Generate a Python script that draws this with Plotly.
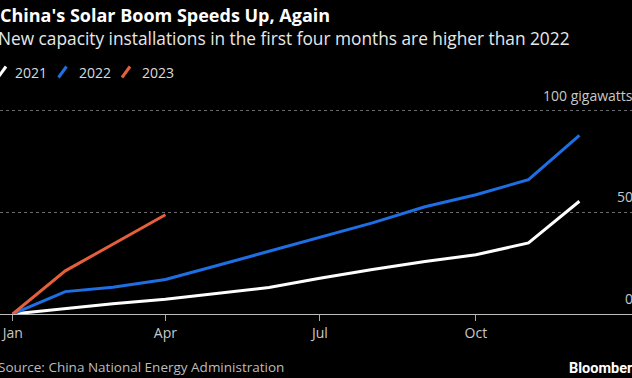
import plotly.graph_objects as go

# ---- data ----
dates = ["2022-01-01", "2022-02-01", "2022-03-01", "2022-04-01", "2022-05-01", "2022-06-01",
         "2022-07-01", "2022-08-01", "2022-09-01", "2022-10-01", "2022-11-01", "2022-12-01"]
y2021 = [0, 2.6, 5.0, 7.2, 10.0, 13.0, 17.6, 21.9, 25.8, 29.1, 34.9, 55.4]
y2022 = [0, 11.0, 13.2, 17.0, 23.7, 30.9, 37.9, 44.8, 52.7, 58.6, 66.0, 87.8]
y2023 = [0, 21.2, 34.3, 48.8]
series_names = ["2021", "2022", "2023"]
x_tick_vals = ["2022-01-01", "2022-04-01", "2022-07-01", "2022-10-01"]
x_tick_text = ["Jan", "Apr", "Jul", "Oct"]
y_tick_vals = [0, 50, 100]
y_tick_text = ["0", "50", "100 gigawatts"]

colors = ["#ffffff", "#1d6fe3", "#e4603b"]
FONT = "Open Sans"
W, H = 632, 378
T, B = 100, 64
PH = H - T - B

def px_x(px):
    return px / W

def px_y(py):
    return (H - B - py) / PH

fig = go.Figure()
for name, ys, c in zip(series_names, [y2021, y2022, y2023], colors):
    fig.add_trace(go.Scatter(x=dates[:len(ys)], y=ys, mode="lines", name=name,
                             line=dict(color=c, width=3), showlegend=False,
                             hoverinfo="skip"))

annotations = []
annotations.append(dict(text="<b>China's Solar Boom Speeds Up, Again</b>", x=px_x(-2), y=px_y(15),
                        xref="paper", yref="paper", xanchor="left", yanchor="middle",
                        showarrow=False, font=dict(family=FONT, size=18, color="#ffffff")))
annotations.append(dict(text="New capacity installations in the first four months are higher than 2022",
                        x=px_x(-4), y=px_y(38), xref="paper", yref="paper", xanchor="left",
                        yanchor="middle", showarrow=False,
                        font=dict(family=FONT, size=17.3, color="#e8e8e8")))
legend_text_x = [13, 77, 140]
legend_sym_x = [-2, 58.5, 122]
shapes = []
for name, c, tx, sx in zip(series_names, colors, legend_text_x, legend_sym_x):
    annotations.append(dict(text=name, x=px_x(tx), y=px_y(72), xref="paper", yref="paper",
                            xanchor="left", yanchor="middle", showarrow=False,
                            font=dict(family=FONT, size=14, color="#dcdcdc")))
    shapes.append(dict(type="line", xref="paper", yref="paper", x0=px_x(sx), y0=px_y(77.5),
                       x1=px_x(sx + 8), y1=px_y(66.5), line=dict(color=c, width=3)))
for v, t in zip(y_tick_vals, y_tick_text):
    annotations.append(dict(text=t, x=1, y=v, xref="paper", yref="y", xanchor="right",
                            yanchor="bottom", xshift=3, yshift=4, showarrow=False,
                            font=dict(family=FONT, size=14, color="#c8c8c8")))
annotations.append(dict(text="Source: China National Energy Administration", x=px_x(-4), y=px_y(367),
                        xref="paper", yref="paper", xanchor="left", yanchor="middle",
                        showarrow=False, font=dict(family=FONT, size=13.5, color="#bdbdbd")))
annotations.append(dict(text="<b>Bloomberg</b>", x=px_x(567), y=px_y(368), xref="paper", yref="paper",
                        xanchor="left", yanchor="middle", showarrow=False,
                        font=dict(family="Roboto", size=14.5, color="#ffffff")))

fig.update_layout(
    width=W, height=H,
    margin=dict(l=0, r=0, t=T, b=B),
    paper_bgcolor="#000000", plot_bgcolor="#000000",
    font=dict(family=FONT, color="#ffffff"),
    annotations=annotations, shapes=shapes,
    xaxis=dict(type="date", range=["2021-12-24 12:00", "2023-01-01"],
               tickvals=x_tick_vals, ticktext=x_tick_text,
               ticks="outside", ticklen=6, tickcolor="#aaaaaa", tickwidth=1,
               showline=True, linecolor="#bdbdbd", linewidth=1,
               showgrid=False, zeroline=False,
               tickfont=dict(family=FONT, size=14, color="#c8c8c8")),
    yaxis=dict(range=[0, PH / 2.035], tickvals=y_tick_vals, showticklabels=False,
               showgrid=True, gridcolor="#6a6a6a", griddash="dot", gridwidth=1,
               zeroline=False, showline=False),
)

fig.write_html("out.html", config={"displayModeBar": False},
               post_script="document.body.style.margin='0';document.body.style.overflow='hidden';")
